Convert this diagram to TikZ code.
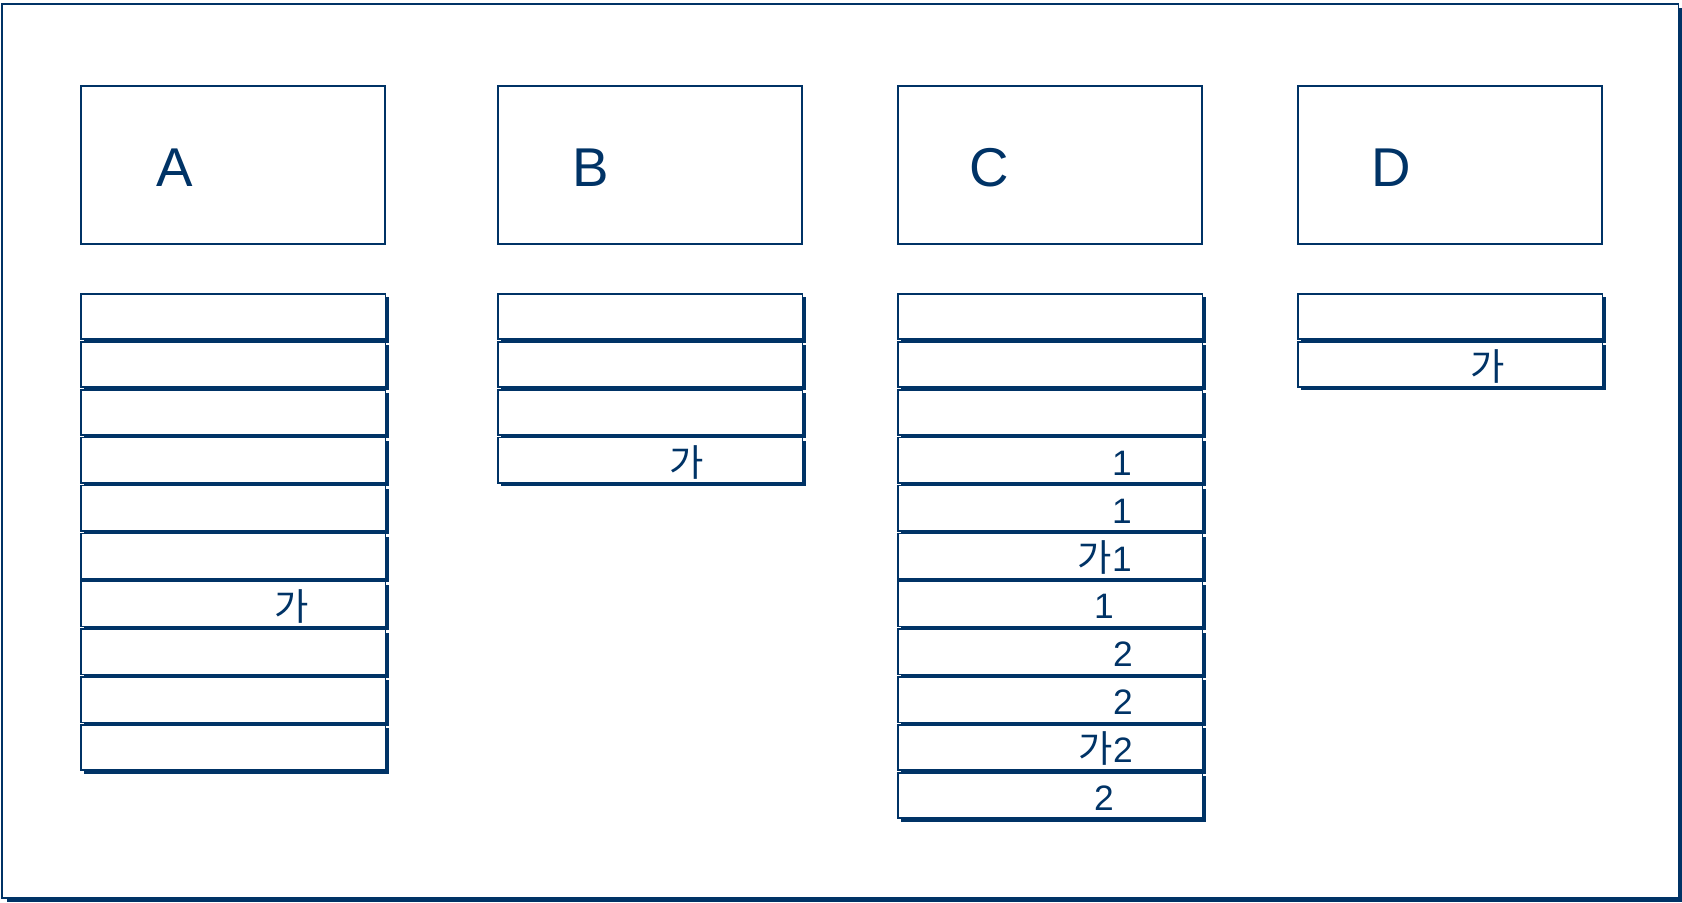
\documentclass[tikz,border=0pt]{standalone}
\usepackage{fontspec}
\setmainfont{Liberation Sans}
\newfontfamily\kr{Noto Sans CJK KR}
\usetikzlibrary{shadows,calc}
\definecolor{navy}{RGB}{0,51,102}
\tikzset{
  x=0.75pt, y=-0.75pt,
  frame/.style={draw=navy, line width=1.3pt, fill=white, inner sep=0pt,
    general shadow={fill=navy, shadow xshift=3.4pt, shadow yshift=-3.4pt}},
  hdrbox/.style={draw=navy, line width=1.3pt, fill=white, inner sep=0pt,
    minimum width=228pt, minimum height=118.5pt, anchor=north west},
  rowbox/.style={draw=navy, line width=1.3pt, fill=white, inner sep=0pt,
    minimum width=228.5pt, minimum height=34pt, anchor=north west,
    general shadow={fill=navy, shadow xshift=2.5pt, shadow yshift=-2.5pt}},
  hdrtext/.style={text=navy, inner sep=0pt, font=\fontsize{41}{41}\selectfont, anchor=base west},
  rowtext/.style={text=navy, inner sep=0pt, font=\fontsize{26.5}{26.5}\selectfont},
  krtext/.style={text=navy, inner sep=0pt, font=\fontsize{28}{28}\selectfont\kr},
}
\begin{document}
\begin{tikzpicture}
\useasboundingbox (0,0) rectangle (1682,903);
% outer frame
\node[frame, minimum width=1257pt, minimum height=670.5pt, anchor=north west] (fr) at (1.5,3) {};
% headers
\node[hdrbox] (hA) at (80,85) {};
\node[hdrbox] (hB) at (497,85) {};
\node[hdrbox] (hC) at (897,85) {};
\node[hdrbox] (hD) at (1297,85) {};
\node[hdrtext] (tA) at ($(hA.north west)+(76,101)$) {A};
\node[hdrtext] (tB) at ($(hB.north west)+(75,101)$) {B};
\node[hdrtext] (tC) at ($(hC.north west)+(72,101)$) {C};
\node[hdrtext] (tD) at ($(hD.north west)+(74,101)$) {D};
% rows
\foreach \i in {1,...,10} \node[rowbox] (A\i) at (80,{293+(\i-1)*47.9}) {};
\foreach \i in {1,...,4} \node[rowbox] (B\i) at (497,{293+(\i-1)*47.9}) {};
\foreach \i in {1,...,11} \node[rowbox] (C\i) at (897,{293+(\i-1)*47.9}) {};
\foreach \i in {1,...,2} \node[rowbox] (D\i) at (1297,{293+(\i-1)*47.9}) {};
% row texts
\node[krtext, anchor=base] (a7) at ($(A7.north west)+(212,40)$) {가};
\node[krtext, anchor=base] (b4) at ($(B4.north west)+(190,40)$) {가};
\node[krtext, anchor=base] (d2) at ($(D2.north west)+(191,40)$) {가};
\node[rowtext, anchor=base east] (c4) at ($(C4.north west)+(235,38.5)$) {1};
\node[rowtext, anchor=base east] (c5) at ($(C5.north west)+(235,38.5)$) {1};
\node[rowtext, anchor=base east] (c6) at ($(C6.north west)+(235,38.5)$) {{\fontsize{28}{28}\selectfont\kr 가}1};
\node[rowtext, anchor=base] (c7) at ($(C7.north west)+(207,38.5)$) {1};
\node[rowtext, anchor=base east] (c8) at ($(C8.north west)+(236,38.5)$) {2};
\node[rowtext, anchor=base east] (c9) at ($(C9.north west)+(236,38.5)$) {2};
\node[rowtext, anchor=base east] (c10) at ($(C10.north west)+(236,38.5)$) {{\fontsize{28}{28}\selectfont\kr 가}2};
\node[rowtext, anchor=base] (c11) at ($(C11.north west)+(207,38.5)$) {2};
\end{tikzpicture}
\end{document}
